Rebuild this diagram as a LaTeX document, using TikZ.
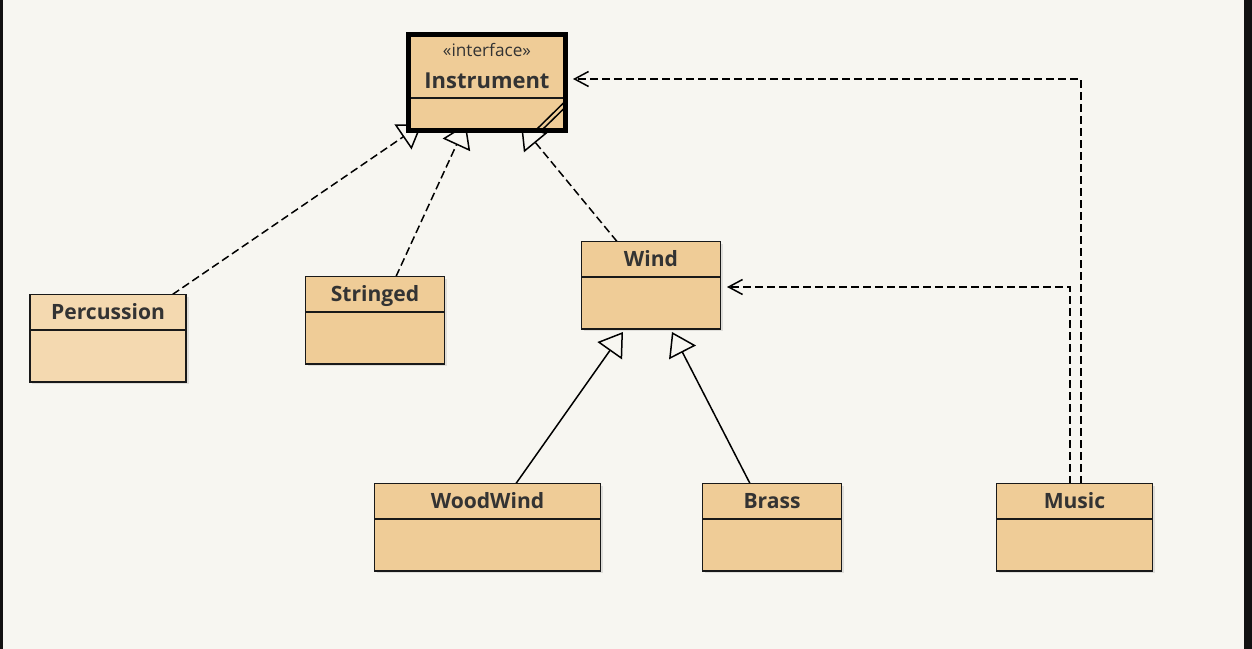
\documentclass[tikz,border=0pt]{standalone}
\usepackage{fontspec}
\setmainfont{Open Sans}
\usepackage{tikz}
\usetikzlibrary{positioning,calc,arrows.meta,shadows}
\definecolor{paper}{HTML}{F7F6F1}
\definecolor{tan}{HTML}{EFCC97}
\definecolor{pale}{HTML}{F4D9B0}
\definecolor{ink}{HTML}{333333}
\pgfdeclarelayer{bg}
\pgfdeclarelayer{links}
\pgfsetlayers{bg,links,main}

\begin{document}
\begin{tikzpicture}[x=0.02cm,y=-0.02cm,
  cls/.style={draw=black!90,line width=0.03cm,fill=tan,inner sep=0pt,outer sep=0pt},
  shade/.style={drop shadow={shadow xshift=0.05cm,shadow yshift=-0.05cm,opacity=0.2}},
  head/.style={cls,shade,anchor=north west,minimum height=0.71cm,text height=8.6pt,text depth=0pt,font=\fontsize{12}{14}\selectfont\bfseries,text=ink},
  body/.style={cls,shade,minimum height=1.04cm},
  real/.style={line width=0.03cm,dash pattern=on 0.16cm off 0.08cm,-{Triangle[open,length=0.46cm,width=0.6cm]}},
  gen/.style={line width=0.03cm,-{Triangle[open,length=0.46cm,width=0.6cm]}},
  dep/.style={line width=0.03cm,dash pattern=on 0.16cm off 0.08cm,-{Straight Barb[length=0.28cm,width=0.3cm]}}]
\useasboundingbox (0,0) rectangle (1252,649);
\begin{pgfonlayer}{bg}
\fill[paper] (0,0) rectangle (1252,649);
\fill[black!93] (0,0) rectangle (3,649);
\fill[black!93] (1244,0) rectangle (1252,649);
\end{pgfonlayer}
\node[cls,anchor=north west,minimum width=157*0.02cm,minimum height=63.5*0.02cm,align=center,text=ink] (inst) at (408.5,34.5)
   {{\fontsize{9.8}{11}\selectfont «interface»}\\[6pt]{\fontsize{12.5}{14}\selectfont\bfseries Instrument}};
\node[cls,minimum width=157*0.02cm,minimum height=32.5*0.02cm,below=0pt of inst] (inst-b) {};
\draw[line width=0.03cm] ($(inst-b.south east)+(-29,-1)$) -- ($(inst-b.south east)+(-1,-28.5)$);
\draw[line width=0.03cm] ($(inst-b.south east)+(-23,-1)$) -- ($(inst-b.south east)+(-1,-22.5)$);
\draw[line width=0.1cm] (inst.north west) rectangle (inst-b.south east);
\foreach \n/\t/\x/\y/\w/\c in %
{perc/Percussion/30/294.5/156/pale,str/Stringed/305.5/276.5/139/tan,wind/Wind/581.5/241.5/139/tan,%
wood/WoodWind/374.5/483.5/226/tan,brass/Brass/702.5/483.5/139/tan,music/Music/996.5/483.5/156/tan} {
   \node[head,fill=\c,minimum width=\w*0.02cm] (\n) at (\x,\y) {\t};
   \node[body,fill=\c,minimum width=\w*0.02cm,below=0pt of \n] (\n-b) {};
}
\begin{pgfonlayer}{links}
\draw[real] ($(perc.north east)+(-13.5,0)$) -- ($(inst-b.south west)+(13.5,-6.5)$);
\draw[real] ($(str.north west)+(90.5,0)$) -- ($(inst-b.south west)+(57.5,-6.5)$);
\draw[real] ($(wind.north west)+(35.5,0)$) -- ($(inst-b.south west)+(112.5,-5.5)$);
\draw[gen] ($(wood.north west)+(141.5,0)$) -- ($(wind-b.south west)+(41.5,3)$);
\draw[gen] ($(brass.north west)+(47.5,0)$) -- ($(wind-b.south west)+(90.5,3)$);
\draw[dep] ($(music.north west)+(84.5,0)$) |- ($(inst-b.north east)+(7.5,-19)$);
\draw[dep] ($(music.north west)+(73.5,0)$) |- ($(wind-b.north east)+(6.5,10)$);
\end{pgfonlayer}
\end{tikzpicture}
\end{document}
